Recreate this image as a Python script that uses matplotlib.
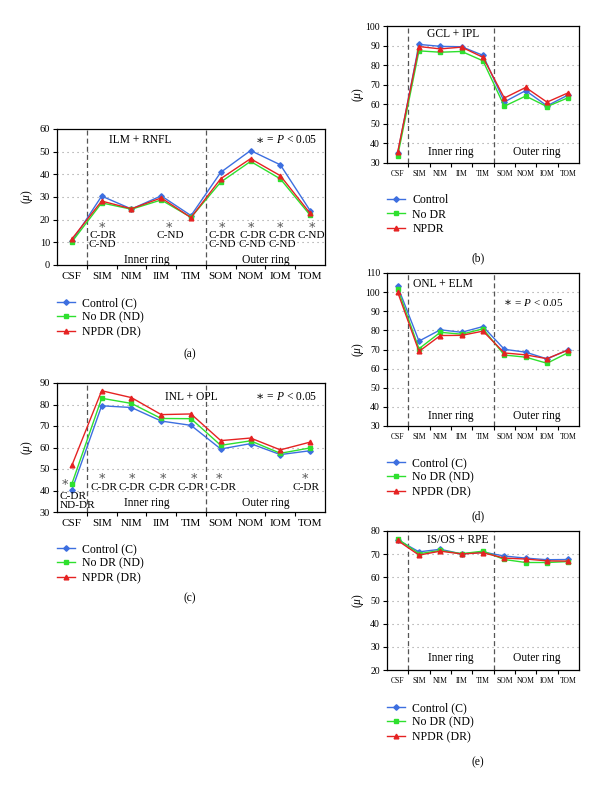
import matplotlib
matplotlib.use("Agg")
import matplotlib.pyplot as plt
from matplotlib.lines import Line2D

plt.rcParams['font.family'] = ['Liberation Serif', 'DejaVu Serif']
plt.rcParams['mathtext.fontset'] = 'custom'
plt.rcParams['mathtext.it'] = 'Liberation Serif:italic'
plt.rcParams['mathtext.rm'] = 'Liberation Serif'

categories = ["CSF", "SIM", "NIM", "IIM", "TIM", "SOM", "NOM", "IOM", "TOM"]

# (a) ILM + RNFL
a_control = [10.4, 30.4, 24.7, 30.5, 21.8, 40.9, 50.5, 44.2, 24.0]
a_nodr = [10.2, 27.4, 24.6, 28.7, 21.0, 36.6, 45.7, 38.0, 22.0]
a_npdr = [11.5, 28.2, 24.8, 29.6, 20.9, 38.1, 46.9, 39.4, 22.8]

# (b) GCL + IPL
b_control = [35.0, 90.6, 89.6, 89.4, 85.0, 61.2, 67.0, 59.2, 64.8]
b_nodr = [33.6, 87.3, 86.6, 87.0, 82.2, 59.0, 64.2, 58.8, 63.4]
b_npdr = [35.5, 89.5, 88.3, 89.2, 84.0, 63.2, 68.6, 61.1, 65.9]

# (c) INL + OPL
c_control = [40.3, 79.4, 78.6, 72.3, 70.3, 59.3, 61.8, 56.7, 58.5]
c_nodr = [43.1, 82.9, 80.5, 73.5, 73.4, 61.0, 63.1, 57.3, 59.8]
c_npdr = [51.7, 86.4, 83.2, 75.3, 75.6, 63.2, 64.4, 58.9, 62.5]

# (d) ONL + ELM
d_control = [103.0, 74.4, 80.3, 79.0, 82.0, 70.1, 68.6, 65.1, 69.9]
d_nodr = [101.8, 70.4, 79.0, 78.0, 80.8, 67.1, 66.0, 62.8, 68.4]
d_npdr = [100.0, 69.0, 77.3, 77.4, 79.6, 68.2, 67.2, 65.2, 69.8]

# (e) IS/OS + RPE
e_control = [76.2, 71.0, 72.1, 70.1, 70.9, 69.2, 68.3, 67.6, 67.7]
e_nodr = [76.6, 70.2, 71.6, 70.2, 71.3, 67.7, 66.4, 66.4, 66.8]
e_npdr = [75.9, 69.6, 71.3, 70.1, 70.6, 68.3, 67.9, 67.1, 67.0]

labels_full = ["Control (C)", "No DR (ND)", "NPDR (DR)"]
labels_short = ["Control", "No DR", "NPDR"]

# significance annotations
a_star_x = [1.0, 3.25, 5.05, 6.02, 7.0, 8.05]
a_pair_x = [1.03, 3.3, 5.05, 6.07, 7.05, 8.05]
a_pair_txt = ["C-DR\nC-ND", "C-ND", "C-DR\nC-ND", "C-DR\nC-ND", "C-DR\nC-ND", "C-ND"]
c_star_x = [1.0, 2.02, 3.07, 4.1, 4.95, 7.84]
c_pair_x = [1.07, 2.03, 3.03, 4.0, 5.08, 7.85]
c_pair_txt = ["C-DR", "C-DR", "C-DR", "C-DR", "C-DR", "C-DR"]

COL = ["#3d6fe0", "#2ee02e", "#e52222"]
MK = ["D", "s", "^"]
MS = [2.8, 3.0, 3.4]
STAR = "\u2217"
FAM = ['DejaVu Serif', 'DejaVu Sans']

W, H = 600, 789
fig = plt.figure(figsize=(W / 100, H / 100), dpi=100)


def add_ax(l, r, t, b):
    return fig.add_axes([l / W, 1 - b / H, (r - l) / W, (b - t) / H])


def setup(ax, series, ylim, ystep, xfs, yfs, title, tx, ty, ring_y):
    x = list(range(len(categories)))
    for s, c, m, ms in zip(series, COL, MK, MS):
        ax.plot(x, s, color=c, marker=m, ms=ms, lw=1.0, zorder=3)
    ax.set_xlim(-0.5, 8.5)
    ax.set_ylim(*ylim)
    yt = list(range(ylim[0], ylim[1] + 1, ystep))
    ax.set_yticks(yt)
    for v in yt[1:-1]:
        ax.axhline(v, color="#999999", lw=0.8, ls=(0, (1, 3.5)), zorder=1)
    ax.set_xticks(x)
    ax.set_xticklabels(categories, fontsize=xfs)
    ax.set_xticks([i + 0.5 for i in range(8)], minor=True)
    ax.tick_params(axis="x", which="major", length=0, pad=5)
    ax.tick_params(axis="x", which="minor", length=3, width=0.8)
    ax.tick_params(axis="y", length=3, width=0.8, labelsize=yfs, pad=2)
    for sp in ax.spines.values():
        sp.set_linewidth(0.9)
    for xv in (0.5, 4.5):
        ax.axvline(xv, color="#555555", lw=0.9, ls=(0, (4, 2.5)), zorder=2)
    ax.text(tx, ty, title, fontsize=8.3, ha="center", va="center")
    ax.text(2.5, ring_y, "Inner ring", fontsize=8.3, ha="center", va="center")
    ax.text(6.5, ring_y, "Outer ring", fontsize=8.3, ha="center", va="center")


def ylab(xpx, ax):
    pos = ax.get_position()
    fig.text(xpx / W, pos.y0 + pos.height / 2, r"($\mu$)", rotation=90,
             ha="center", va="center", fontsize=8.3)


def legend(ax, labels, xpx, ypx):
    handles = [Line2D([], [], color=c, marker=m, ms=ms, lw=1.0) for c, m, ms in zip(COL, MK, MS)]
    fig.legend(handles, labels, loc="upper left", bbox_to_anchor=(xpx / W, 1 - ypx / H),
               frameon=False, fontsize=8.5, handlelength=1.55, handletextpad=0.6,
               labelspacing=0.22, borderpad=0, borderaxespad=0)


def plabel(xpx, ypx, s):
    fig.text(xpx / W, 1 - ypx / H, s, ha="center", va="center", fontsize=8.3)


def pnote(ax, x, y, ha, fs=8.3):
    t = ax.text(x, y, r" = $P$ < 0.05", fontsize=fs, ha=ha, va="center")
    ax.annotate(STAR, xy=(0, 0.5), xycoords=t, ha="right", va="center",
                fontsize=fs + 0.5, family=FAM)


def star(ax, x, y):
    ax.text(x, y, STAR, color="#555555", fontsize=9, ha="center", va="center", family=FAM)


# (a)
axa = add_ax(57, 325, 129, 265)
setup(axa, [a_control, a_nodr, a_npdr], (0, 60), 10, 8, 7.5, "ILM + RNFL", 2.3, 55, 2.4)
pnote(axa, 8.25, 55, "right")
for xs in a_star_x:
    star(axa, xs, 17.8)
for xs, t in zip(a_pair_x, a_pair_txt):
    axa.text(xs, 14.9, t, fontsize=8.1, ha="center", va="top", linespacing=0.95)
ylab(27, axa)
legend(axa, labels_full, 57, 297)
plabel(190, 354, "(a)")

# (c)
axc = add_ax(57, 325, 383, 512)
setup(axc, [c_control, c_nodr, c_npdr], (30, 90), 10, 8, 7.5, "INL + OPL", 4.0, 83.7, 34.2)
pnote(axc, 8.25, 83.7, "right")
star(axc, -0.23, 44.0)
axc.text(-0.42, 39.3, "C-DR\nND-DR", fontsize=8.1, ha="left", va="top", linespacing=0.95)
for xs in c_star_x:
    star(axc, xs, 46.9)
for xs, t in zip(c_pair_x, c_pair_txt):
    axc.text(xs, 41.6, t, fontsize=8.1, ha="center", va="center")
ylab(27, axc)
legend(axc, labels_full, 57, 543)
plabel(190, 598, "(c)")

# (b)
axb = add_ax(387, 579, 26, 163)
setup(axb, [b_control, b_nodr, b_npdr], (30, 100), 10, 5.5, 7, "GCL + IPL", 2.6, 95.8, 35.5)
ylab(358, axb)
legend(axb, labels_short, 387, 194)
plabel(478, 258, "(b)")

# (d)
axd = add_ax(387, 579, 273, 426)
setup(axd, [d_control, d_nodr, d_npdr], (30, 110), 10, 5.5, 7, "ONL + ELM", 2.1, 104.4, 35.0)
pnote(axd, 6.55, 94.4, "center", fs=8.0)
ylab(358, axd)
legend(axd, labels_full, 387, 457)
plabel(478, 516, "(d)")

# (e)
axe = add_ax(387, 579, 531, 670)
setup(axe, [e_control, e_nodr, e_npdr], (20, 80), 10, 5.5, 7, "IS/OS + RPE", 2.83, 75.9, 25.3)
ylab(358, axe)
legend(axe, labels_full, 387, 702)
plabel(478, 762, "(e)")

fig.savefig("out.png", dpi=100, facecolor="white")
